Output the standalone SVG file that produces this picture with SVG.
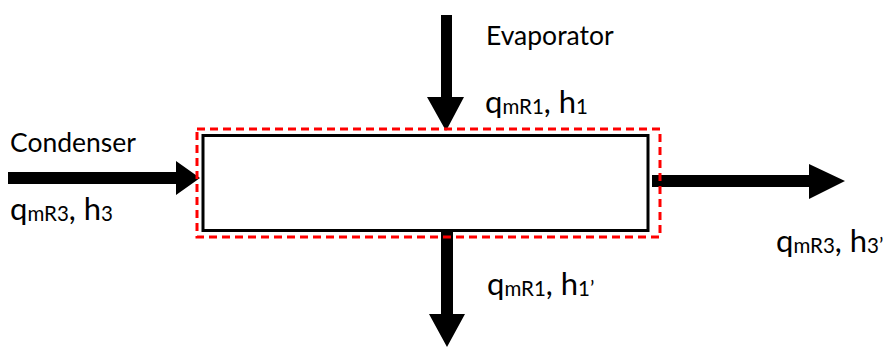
<svg xmlns="http://www.w3.org/2000/svg" width="889" height="347" viewBox="0 0 889 347">
<style>
.lbl{font-family:Lato,"Open Sans","Liberation Sans",sans-serif;font-size:26.5px;fill:#000}
.q{font-family:Lato,"Open Sans","Liberation Sans",sans-serif;font-size:31px;fill:#000}
.s{font-size:20.5px}
.arr{fill:#000;stroke:none}
</style>
<rect width="889" height="347" fill="#fff"/>
<g id="connectors">
<path class="arr" d="M8,172 H176 V161 L200,178 L176,195 V184 H8 Z"/>
<path class="arr" d="M441,15 H452 V97 H464 L446,131 L427,97 H441 Z"/>
<path class="arr" d="M441,231 H453 V314 H465 L447,347 L429,314 H441 Z"/>
<path class="arr" d="M652,175 H809 V164 L845,181 L809,199 V187 H652 Z"/>
</g>
<g id="control-volume">
<rect x="197" y="129" width="463" height="108" fill="none" stroke="#ff0000" stroke-width="3" stroke-dasharray="8,5"/>
</g>
<g id="mixer">
<rect x="203" y="135.5" width="445" height="95" fill="#fff" stroke="#000" stroke-width="3"/>
</g>
<g id="labels">
<text class="lbl" x="10" y="152">Condenser</text>
<text class="lbl" x="486" y="45">Evaporator</text>
<text class="q" x="10" y="220">q<tspan class="s" dy="1">mR3</tspan><tspan dy="-1">, h</tspan><tspan class="s" dy="1">3</tspan></text>
<text class="q" x="485" y="113">q<tspan class="s" dy="1">mR1</tspan><tspan dy="-1">, h</tspan><tspan class="s" dy="1">1</tspan></text>
<text class="q" x="487" y="295">q<tspan class="s" dy="1">mR1</tspan><tspan dy="-1">, h</tspan><tspan class="s" dy="1">1’</tspan></text>
<text class="q" x="776" y="252">q<tspan class="s" dy="1">mR3</tspan><tspan dy="-1">, h</tspan><tspan class="s" dy="1">3’</tspan></text>
</g>
</svg>
